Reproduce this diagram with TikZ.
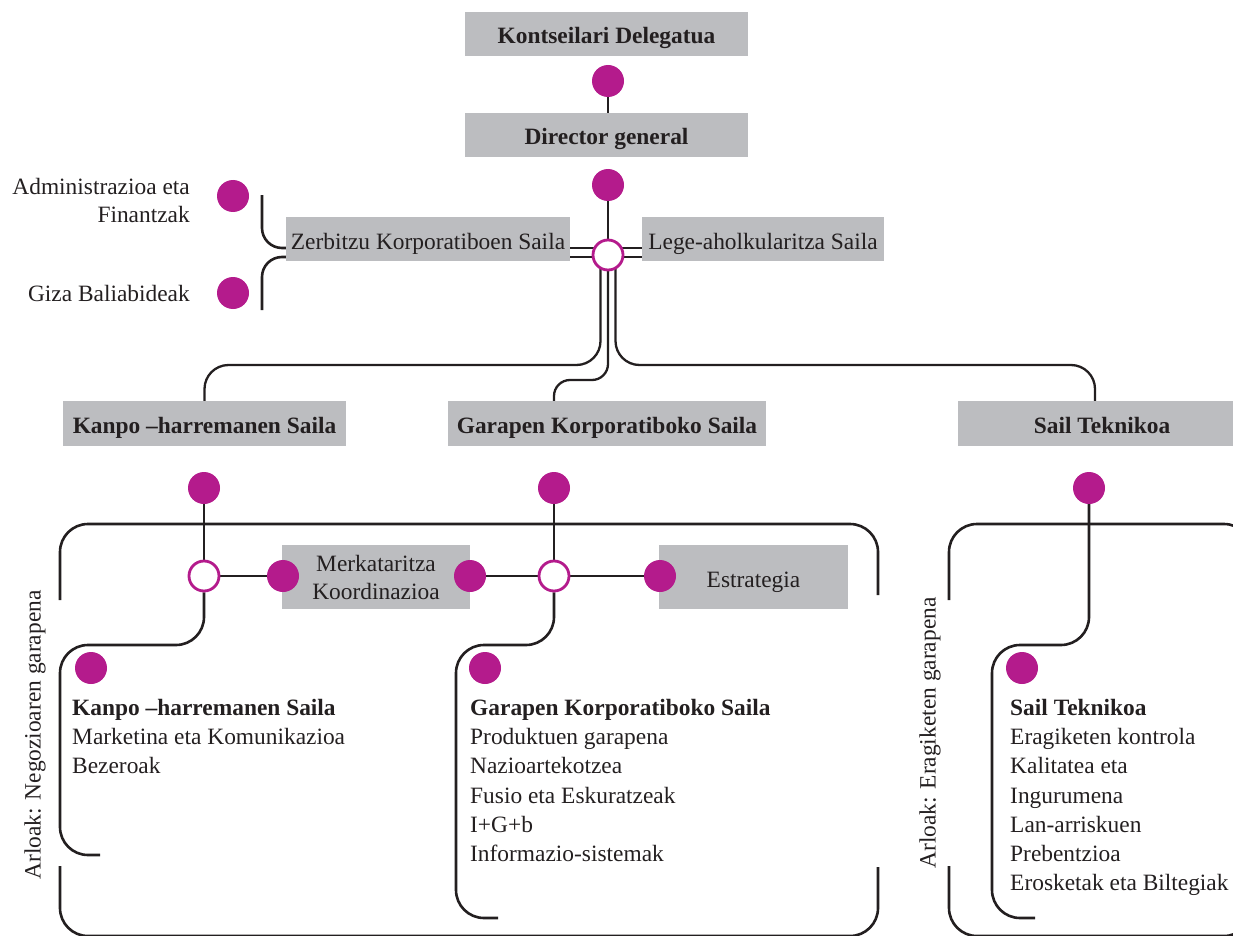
\documentclass[tikz,border=0pt]{standalone}
\usepackage{fontspec}
\setmainfont{Liberation Serif}
\usetikzlibrary{backgrounds}
\definecolor{dotpink}{RGB}{180,27,140}
\definecolor{boxgray}{RGB}{188,189,192}
\definecolor{ink}{RGB}{35,31,32}

\begin{document}
\begin{tikzpicture}[x=1pt,y=-1pt,
  txt/.style={font=\fontsize{23.4}{28}\selectfont, text=ink, inner sep=0pt},
  box/.style={txt, fill=boxgray, align=center},
  onebox/.style={box, text height=20pt, text depth=0pt},
  dot/.style={circle, fill=dotpink, minimum size=32pt, inner sep=0pt},
  ring/.style={circle, draw=dotpink, line width=2.8pt, fill=white, minimum size=30pt, inner sep=0pt},
  conn/.style={draw=ink, line width=2.6pt},
  twin/.style={draw=ink, line width=2.3pt},
  listing/.style={txt, font=\fontsize{23.4}{29.2}\selectfont, align=left, anchor=north west},
  sidelabel/.style={txt, rotate=90}]

\useasboundingbox (0,0) rectangle (1233,936);
\clip (0,0) rectangle (1233,936);

% ---- boxes ----
\node[onebox, minimum width=283pt, minimum height=44pt] (kd) at (606.5,34) {\textbf{Kontseilari Delegatua}};
\node[onebox, minimum width=283pt, minimum height=44pt] (dg) at (606.5,135) {\textbf{Director general}};
\node[onebox, minimum width=284pt, minimum height=44pt] (zks) at (428,239) {Zerbitzu Korporatiboen Saila};
\node[onebox, minimum width=242pt, minimum height=44pt] (las) at (763,239) {Lege-aholkularitza Saila};
\node[onebox, minimum width=283pt, minimum height=45pt] (khs) at (204.5,423.5) {\textbf{Kanpo –harremanen Saila}};
\node[onebox, minimum width=318pt, minimum height=45pt] (gks) at (607,423.5) {\textbf{Garapen Korporatiboko Saila}};
\node[onebox, minimum width=288pt, minimum height=45pt] (st) at (1102,423.5) {\textbf{Sail Teknikoa}};
\node[box, minimum width=188pt, minimum height=64pt] (mk) at (376,577) {Merkataritza\\Koordinazioa};
\node[onebox, minimum width=189pt, minimum height=64pt] (es) at (753.5,577) {Estrategia};

% ---- dots ----
\node[dot] (d1) at (608,81) {};
\node[dot] (d2) at (608,185) {};
\node[dot] (da) at (233,196) {};
\node[dot] (dgb) at (233,293) {};
\node[dot] (dk) at (204,488) {};
\node[dot] (dgk) at (554,488) {};
\node[dot] (dst) at (1089,488) {};
\node[dot] (dm1) at (283,576) {};
\node[dot] (dm2) at (470,576) {};
\node[dot] (des) at (660,576) {};
\node[dot] (dl1) at (91,668) {};
\node[dot] (dl2) at (485,668) {};
\node[dot] (dl3) at (1022,668) {};

% ---- junction rings ----
\node[ring] (o1) at (608,255) {};
\node[ring] (o2) at (204,576) {};
\node[ring] (o3) at (554,576) {};

% ---- texts ----
\node[txt, anchor=east, align=right] (ta) at (190,200) {Administrazioa eta\\Finantzak};
\node[txt, anchor=east] (tg) at (190,293) {Giza Baliabideak};
\node[listing] (lk) at (72,699) {\textbf{Kanpo –harremanen Saila}\\Marketina eta Komunikazioa\\Bezeroak};
\node[listing] (lg) at (470,699) {\textbf{Garapen Korporatiboko Saila}\\Produktuen garapena\\Nazioartekotzea\\Fusio eta Eskuratzeak\\I+G+b\\Informazio-sistemak};
\node[listing] (lt) at (1010,699) {\textbf{Sail Teknikoa}\\Eragiketen kontrola\\Kalitatea eta\\Ingurumena\\Lan-arriskuen\\Prebentzioa\\Erosketak eta Biltegiak};
\node[sidelabel] (sn) at (35,735) {Arloak: Negozioaren garapena};
\node[sidelabel] (se) at (930,733) {Arloak: Eragiketen garapena};

% ---- reference levels and free ends ----
\coordinate (yD1) at (0,248);
\coordinate (yD2) at (0,257);
\coordinate (yBusA) at (0,365);
\coordinate (yBusB) at (0,380);
\coordinate (yTop) at (0,524);
\coordinate (yBot) at (0,936);
\coordinate (zbA) at (262,195);
\coordinate (zbB) at (262,310);
\coordinate (stin) at (1095,401);
\coordinate (kiCorner) at (60,645);
\coordinate (kiEnd) at (100,855);
\coordinate (giCorner) at (456,645);
\coordinate (giEnd) at (498,918);
\coordinate (tiCorner) at (992,645);
\coordinate (tiEnd) at (1035,918);
\coordinate (obA) at (60,600);
\coordinate (obB) at (878,595);
\coordinate (obC) at (60,866);
\coordinate (obD) at (878,867);
\coordinate (orA) at (949,600);
\coordinate (orB) at (1252,600);
\coordinate (orC) at (949,866);
\coordinate (orD) at (1252,866);

% ---- connectors ----
\begin{scope}[on background layer]
\clip (0,0) rectangle (1233,936);
\draw[conn] (d1) -- (d1 |- dg.north);
\draw[conn] (d2) -- (o1);
% double links beside the junction
\draw[twin] (zks.east |- yD1) -- (o1.center |- yD1);
\draw[twin] (zks.east |- yD2) -- (o1.center |- yD2);
\draw[twin] (las.west |- yD1) -- (o1.center |- yD1);
\draw[twin] (las.west |- yD2) -- (o1.center |- yD2);
% bracket on the left of Zerbitzu
\draw[conn, rounded corners=20pt] (zbA) |- (zks.west |- yD1);
\draw[conn, rounded corners=20pt] (zks.west |- yD2) -| (zbB);
% three branches under the junction
\draw[twin, rounded corners=24pt] ([xshift=-7.5pt]o1.center) |- (khs.north |- yBusA) -- (khs.north);
\draw[twin, rounded corners=16pt] (o1.center) |- (dgk |- yBusB) -- (dgk |- gks.north);
\draw[twin, rounded corners=24pt] ([xshift=7.5pt]o1.center) |- (stin |- yBusA) -- (stin);
% second level
\draw[conn] (dk) -- (o2);
\draw[conn] (dgk) -- (o3);
\draw[conn] (o2) -- (dm1);
\draw[conn] (dm2) -- (o3);
\draw[conn] (o3) -- (des);
\draw[conn, rounded corners=28pt] (o2) |- (kiCorner) |- (kiEnd);
\draw[conn, rounded corners=28pt] (o3) |- (giCorner) |- (giEnd);
\draw[conn, rounded corners=28pt] (dst) |- (tiCorner) |- (tiEnd);
% outer brackets
\draw[conn, rounded corners=28pt] (obA) |- (obB |- yTop) -- (obB);
\draw[conn, rounded corners=28pt] (obC) |- (obD |- yBot) -- (obD);
\draw[conn, rounded corners=28pt] (orA) |- (orB |- yTop) -- (orB);
\draw[conn, rounded corners=28pt] (orC) |- (orD |- yBot) -- (orD);
\end{scope}
\end{tikzpicture}
\end{document}
